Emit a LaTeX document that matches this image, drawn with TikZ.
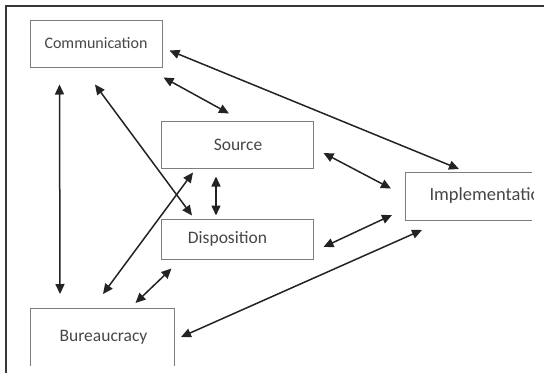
\documentclass[tikz,border=0pt]{standalone}
\usepackage{fontspec}
\setmainfont{Carlito}
\usepackage{xcolor}
\usetikzlibrary{arrows.meta,positioning}
\definecolor{boxgray}{RGB}{125,125,125}
\definecolor{linkgray}{RGB}{35,35,35}
\definecolor{labelgray}{RGB}{70,70,70}
\definecolor{framegray}{RGB}{55,55,55}
\tikzstyle{factor} = [rectangle, draw=boxgray, line width=1pt, inner sep=0pt, text=labelgray, font=\fontsize{17.5}{20}\selectfont]
\tikzstyle{link} = [line width=1.5pt, color=linkgray, {Triangle[length=10pt,width=9pt]}-{Triangle[length=10pt,width=9pt]}]

\begin{document}
\begin{tikzpicture}[x=1pt, y=-1pt]
\useasboundingbox (0,0) rectangle (544,373);
% outer frame (cut off at right and bottom)
\draw[line width=2pt, framegray] (544,6) -- (6,6) -- (6,373);

% factors
\node (comm) [factor, minimum width=132pt, minimum height=47pt, font=\fontsize{16}{19}\selectfont] at (96,43.5) {Communication};
\node (source) [factor, minimum width=152pt, minimum height=47pt] at (237,144.5) {\hspace*{2pt}Source};
\node (disp) [factor, minimum width=152pt, minimum height=40pt] at (237,239) {Disposition\hspace*{19pt}};

% boxes that run out of the picture
\node (bur) [factor, draw=none, anchor=north west, minimum width=143pt, minimum height=57pt] at (30,308) {\hspace*{3pt}Bureaucracy};
\draw[boxgray, line width=1pt] (bur.south west) -- (bur.north west) -- (bur.north east) -- (bur.south east);

\begin{scope}
\clip (0,0) rectangle (533,373);
\node (impl) [factor, draw=none, anchor=north west, minimum height=47pt, text width=150pt, align=left, inner xsep=24pt, font=\fontsize{18.5}{22}\selectfont] at (405,172) {Implementation};
\end{scope}
\draw[boxgray, line width=1pt] ([xshift=127pt]impl.north west) -- (impl.north west) -- (impl.south west) -- ([xshift=127pt]impl.south west);

% links
\draw[link] ([shift={(7,7)}]comm.east) -- ([shift={(54,-3)}]impl.north west);
\draw[link] ([shift={(1,10)}]comm.south east) -- ([shift={(-8,-7)}]source.north);
\draw[link] ([shift={(30,17)}]comm.south west) -- ([shift={(30,-14)}]bur.north west);
\draw[link] ([shift={(-1,17)}]comm.south) -- ([shift={(-45,-3)}]disp.north);
\draw[link] ([shift={(-44,4)}]source.south) -- ([shift={(1,-14)}]bur.north);
\draw[link] ([shift={(-21,8)}]source.south) -- ([shift={(-21,-3)}]disp.north);
\draw[link] ([shift={(11,9)}]disp.south west) -- ([shift={(33.5,-5)}]bur.north);
\draw[link] ([shift={(10,8.5)}]source.east) -- ([shift={(-14,-7.5)}]impl.west);
\draw[link] ([shift={(10,8)}]disp.east) -- ([shift={(-13,-5)}]impl.south west);
\draw[link] ([shift={(7,0)}]bur.east) -- ([shift={(17,10)}]impl.south west);
\end{tikzpicture}
\end{document}
